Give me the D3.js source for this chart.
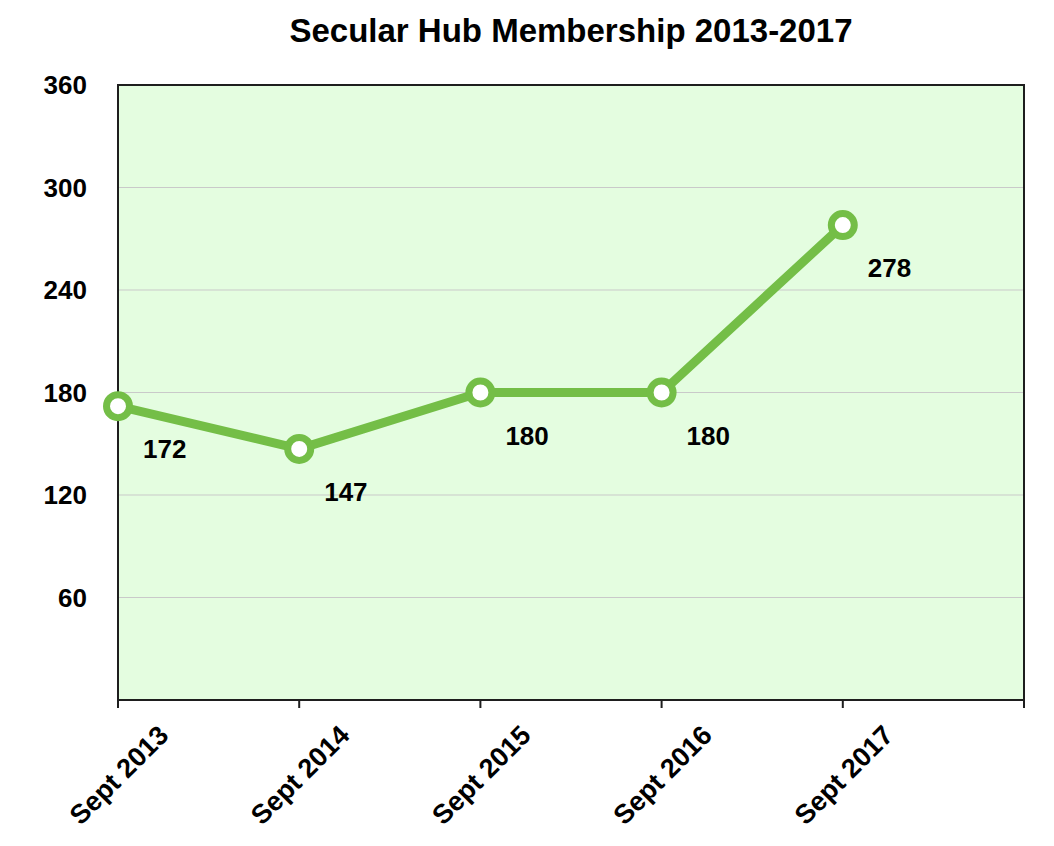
<!DOCTYPE html>
<meta charset="utf-8">
<title>Secular Hub Membership</title>
<style>
body{ margin:0; background:white; }
text{ font-family: "Liberation Sans", Arial, sans-serif; font-weight:bold; fill:#000; }
</style>
<body>
<script src="https://d3js.org/d3.v7.min.js"></script>
<script>

var categories = ['Sept 2013', 'Sept 2014', 'Sept 2015', 'Sept 2016', 'Sept 2017'];
var members = [172, 147, 180, 180, 278];
var yTicks = [60, 120, 180, 240, 300, 360];

var width = 1054, height = 846;
var margin = {top: 85, right: 30, bottom: 146, left: 118};
var plotW = width - margin.left - margin.right;
var plotH = height - margin.top - margin.bottom;

var green = '#74be47';

var svg = d3.select('body').append('svg')
	.attr('width', width)
	.attr('height', height);

svg.append('text')
	.attr('x', 571)
	.attr('y', 42)
	.attr('text-anchor', 'middle')
	.style('font-size', '33px')
	.text('Secular Hub Membership 2013-2017');

var g = svg.append('g')
	.attr('transform', 'translate(' + margin.left + ',' + margin.top + ')');

// one band per category, points sit on the left edge of each band
var x = d3.scaleLinear().domain([0, categories.length]).range([0, plotW]);
var y = d3.scaleLinear().domain([0, 360]).range([plotH, 0]);

g.append('rect')
	.attr('width', plotW)
	.attr('height', plotH)
	.attr('fill', '#e4fde0');

g.selectAll('.grid')
	.data(yTicks.slice(0, -1))
	.enter().append('line')
	.attr('x1', 0).attr('x2', plotW)
	.attr('y1', function(d){ return y(d); })
	.attr('y2', function(d){ return y(d); })
	.attr('stroke', '#c9c9c9')
	.attr('stroke-width', 1);

g.append('rect')
	.attr('width', plotW)
	.attr('height', plotH)
	.attr('fill', 'none')
	.attr('stroke', '#1e1e1e')
	.attr('stroke-width', 2);

// y labels
g.selectAll('.ylab')
	.data(yTicks)
	.enter().append('text')
	.attr('x', -31)
	.attr('y', function(d){ return y(d) + 9; })
	.attr('text-anchor', 'end')
	.style('font-size', '26px')
	.text(function(d){ return d; });

// x ticks
g.selectAll('.xtick')
	.data(d3.range(categories.length + 1))
	.enter().append('line')
	.attr('x1', function(d){ return x(d); })
	.attr('x2', function(d){ return x(d); })
	.attr('y1', plotH)
	.attr('y2', plotH + 8)
	.attr('stroke', '#1e1e1e')
	.attr('stroke-width', 2);

g.selectAll('.xlab')
	.data(categories)
	.enter().append('text')
	.attr('text-anchor', 'end')
	.attr('transform', function(d, i){
		return 'translate(' + (x(i) + 52) + ',' + (plotH + 37) + ') rotate(-45)';
	})
	.style('font-size', '27px')
	.text(function(d){ return d; });

var line = d3.line()
	.x(function(d, i){ return x(i); })
	.y(function(d){ return y(d); });

g.append('path')
	.datum(members)
	.attr('d', line)
	.attr('fill', 'none')
	.attr('stroke', green)
	.attr('stroke-width', 9)
	.attr('stroke-linejoin', 'round');

g.selectAll('.pt')
	.data(members)
	.enter().append('circle')
	.attr('cx', function(d, i){ return x(i); })
	.attr('cy', function(d){ return y(d); })
	.attr('r', 11.5)
	.attr('fill', 'white')
	.attr('stroke', green)
	.attr('stroke-width', 7);

g.selectAll('.val')
	.data(members)
	.enter().append('text')
	.attr('x', function(d, i){ return x(i) + 25; })
	.attr('y', function(d){ return y(d) + 52; })
	.style('font-size', '26px')
	.text(function(d){ return d; });

</script>
</body>
